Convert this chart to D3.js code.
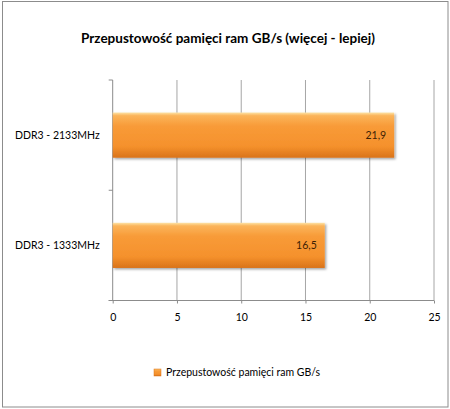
<!DOCTYPE html>
<html><head><meta charset="utf-8">
<script src="https://cdn.jsdelivr.net/npm/d3@7"></script>
<style>
html,body{margin:0;padding:0;background:#fff;}
svg{display:block;font-family:Lato,"Open Sans",sans-serif;}
</style></head>
<body>
<svg id="chart" width="450" height="409"></svg>
<script>
const title = "Przepustowość pamięci ram GB/s (więcej - lepiej)";
const seriesName = "Przepustowość pamięci ram GB/s";
const categories = ["DDR3 - 2133MHz", "DDR3 - 1333MHz"];
const values = [21.9, 16.5];
const valueLabels = ["21,9", "16,5"];
const xTicks = [0, 5, 10, 15, 20, 25];

const svg = d3.select("#chart");
const W = 450, H = 409;
const plot = {left: 112.7, right: 434, top: 80, bottom: 300.5};

const defs = svg.append("defs");
const g = defs.append("linearGradient").attr("id","barGrad").attr("x1",0).attr("y1",0).attr("x2",0).attr("y2",1);
g.append("stop").attr("offset","0%").attr("stop-color","#fde3a6");
g.append("stop").attr("offset","7%").attr("stop-color","#fbb45a");
g.append("stop").attr("offset","30%").attr("stop-color","#f89b38");
g.append("stop").attr("offset","75%").attr("stop-color","#f5912c");
g.append("stop").attr("offset","100%").attr("stop-color","#d9731a");
const f = defs.append("filter").attr("id","shadow").attr("x","-5%").attr("y","-20%").attr("width","115%").attr("height","160%");
f.append("feDropShadow").attr("dx",1.5).attr("dy",1.5).attr("stdDeviation",1.2).attr("flood-color","#000").attr("flood-opacity",0.35);

// frame
svg.append("rect").attr("x",2.5).attr("y",1.5).attr("width",445.5).attr("height",405.5)
  .attr("fill","#fff").attr("stroke","#8c8c8c").attr("stroke-width",1);

svg.append("text").attr("x",228).attr("y",42.5).attr("text-anchor","middle")
  .attr("font-size",13.5).attr("font-weight","bold").attr("fill","#000").text(title);

const x = d3.scaleLinear().domain([0,25]).range([plot.left, plot.right]);
const y = d3.scaleBand().domain(categories).range([plot.top, plot.bottom]).paddingInner(0.59).paddingOuter(0.295);

// grid
svg.append("g").selectAll("line").data(xTicks.slice(1)).join("line")
  .attr("x1",d=>x(d)).attr("x2",d=>x(d)).attr("y1",plot.top).attr("y2",plot.bottom)
  .attr("stroke","#a6a6a6").attr("stroke-width",1);

// x axis
const xAxis = svg.append("g").attr("transform",`translate(0,${plot.bottom})`)
  .call(d3.axisBottom(x).tickValues(xTicks).tickSize(3).tickPadding(10).tickFormat(d3.format("d")));
xAxis.select(".domain").attr("stroke","#8c8c8c").attr("d",`M${plot.left-4},0H${plot.right}`);
xAxis.selectAll(".tick line").attr("stroke","#8c8c8c");
xAxis.selectAll("text").attr("font-size",10.5).attr("fill","#000").attr("font-family","Lato,'Open Sans',sans-serif");

// y axis
const yAxis = svg.append("g").attr("transform",`translate(${plot.left},0)`)
  .call(d3.axisLeft(y).tickSize(0).tickPadding(13));
yAxis.select(".domain").attr("stroke","#8c8c8c").attr("d",`M0,${plot.top}V${plot.bottom}`);
yAxis.selectAll("text").attr("font-size",10.5).attr("fill","#000").attr("font-family","Lato,'Open Sans',sans-serif");
const bounds = [plot.top, (y(categories[0])+y.bandwidth()+y(categories[1]))/2, plot.bottom];
yAxis.append("g").selectAll("line").data(bounds).join("line")
  .attr("x1",-4).attr("x2",0).attr("y1",d=>d).attr("y2",d=>d).attr("stroke","#8c8c8c");

// bars
svg.append("g").selectAll("rect").data(values).join("rect")
  .attr("x",x(0)).attr("y",(d,i)=>y(categories[i]))
  .attr("width",d=>x(d)-x(0)).attr("height",y.bandwidth())
  .attr("fill","url(#barGrad)").attr("filter","url(#shadow)");

svg.append("g").selectAll("text").data(values).join("text")
  .attr("x",d=>x(d)-8).attr("y",(d,i)=>y(categories[i])+y.bandwidth()/2)
  .attr("dy","0.35em").attr("text-anchor","end").attr("font-size",10.5).attr("fill","#3d1f05")
  .text((d,i)=>valueLabels[i]);

// legend
const lg = svg.append("g").attr("transform","translate(154,369)");
lg.append("rect").attr("width",7).attr("height",7).attr("fill","url(#barGrad)").attr("stroke","#d9731a").attr("stroke-width",0.5);
lg.append("text").attr("x",12).attr("y",3.5).attr("dy","0.35em").attr("font-size",10.5).attr("fill","#000").text(seriesName);
</script>
</body></html>
